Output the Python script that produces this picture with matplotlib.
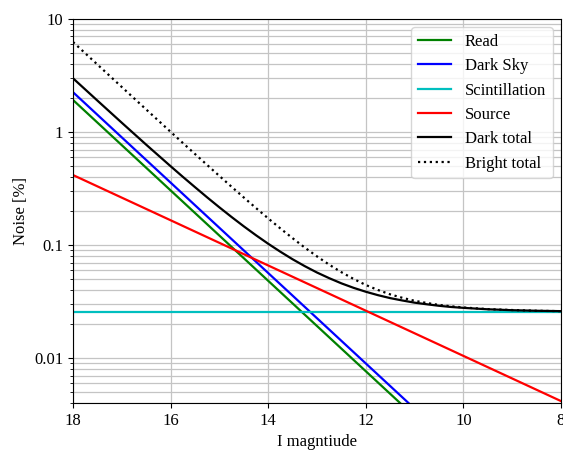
import numpy as np
import matplotlib.pyplot as plt
from matplotlib.ticker import FuncFormatter, LogLocator, NullFormatter

plt.rcParams['font.family'] = ['Liberation Serif', 'DejaVu Serif']

# Straight components (power laws), endpoints at I = 18 and I = 8
mag_ends = [18, 8]
read_noise = [1.92, 1.92e-4]
dark_sky = [2.25, 2.25e-4]
source_noise = [0.416, 0.00416]
scintillation = [0.0257, 0.0257]

# Totals
mag = [18, 17.5, 17, 16.5, 16, 15.75, 15.5, 15.25, 15, 14.75, 14.5, 14.25, 14,
       13.75, 13.5, 13.25, 13, 12.75, 12.5, 12.25, 12, 11.75, 11.5, 11.25, 11,
       10.75, 10.5, 10.25, 10, 9.5, 9, 8.5, 8]
dark_total = [2.987, 1.896, 1.207, 0.772, 0.498, 0.4014, 0.325, 0.2638, 0.2154,
              0.1769, 0.1463, 0.1220, 0.1026, 0.0872, 0.0748, 0.0650, 0.0571,
              0.0509, 0.0458, 0.0418, 0.0386, 0.0360, 0.0339, 0.0323, 0.0309,
              0.0299, 0.0290, 0.0283, 0.0278, 0.0270, 0.0265, 0.0262, 0.0260]
bright_total = [6.257, 3.953, 2.499, 1.582, 1.0035, 0.800, 0.6385, 0.5102, 0.4083,
                0.3275, 0.2633, 0.2124, 0.1720, 0.1401, 0.1149, 0.0949, 0.0793,
                0.0670, 0.0575, 0.0501, 0.0443, 0.0400, 0.0366, 0.0341, 0.0321,
                0.0307, 0.0295, 0.0287, 0.0280, 0.0271, 0.0266, 0.0262, 0.0260]

fig = plt.figure(figsize=(5.63, 4.51), dpi=100)
ax = fig.add_axes([0.1297, 0.1064, 0.8667, 0.8515])

lw = 1.6
ax.plot(mag_ends, read_noise, color='g', lw=lw, label='Read')
ax.plot(mag_ends, dark_sky, color='b', lw=lw, label='Dark Sky')
ax.plot(mag_ends, scintillation, color='c', lw=lw, label='Scintillation')
ax.plot(mag_ends, source_noise, color='r', lw=lw, label='Source')
ax.plot(mag, dark_total, color='k', lw=lw, label='Dark total')
ax.plot(mag, bright_total, color='k', lw=lw, ls=':', label='Bright total')

ax.set_yscale('log')
ax.set_xlim(18, 8)
ax.set_ylim(0.004, 10)
ax.set_xticks([18, 16, 14, 12, 10, 8])
ax.yaxis.set_major_locator(LogLocator(base=10, numticks=10))
ax.yaxis.set_minor_locator(LogLocator(base=10, subs=np.arange(2, 10), numticks=10))
ax.yaxis.set_major_formatter(FuncFormatter(lambda v, p: '{:g}'.format(v)))
ax.yaxis.set_minor_formatter(NullFormatter())

ax.grid(True, which='major', color='#c4c4c4', lw=0.9)
ax.grid(True, which='minor', axis='y', color='#c4c4c4', lw=0.9)
ax.set_axisbelow(True)
ax.tick_params(labelsize=12)

ax.set_xlabel('I magntiude', fontsize=12)
ax.set_ylabel('Noise [%]', fontsize=12)
ax.legend(loc='upper right', fontsize=12)

fig.savefig('out.png', dpi=100)
